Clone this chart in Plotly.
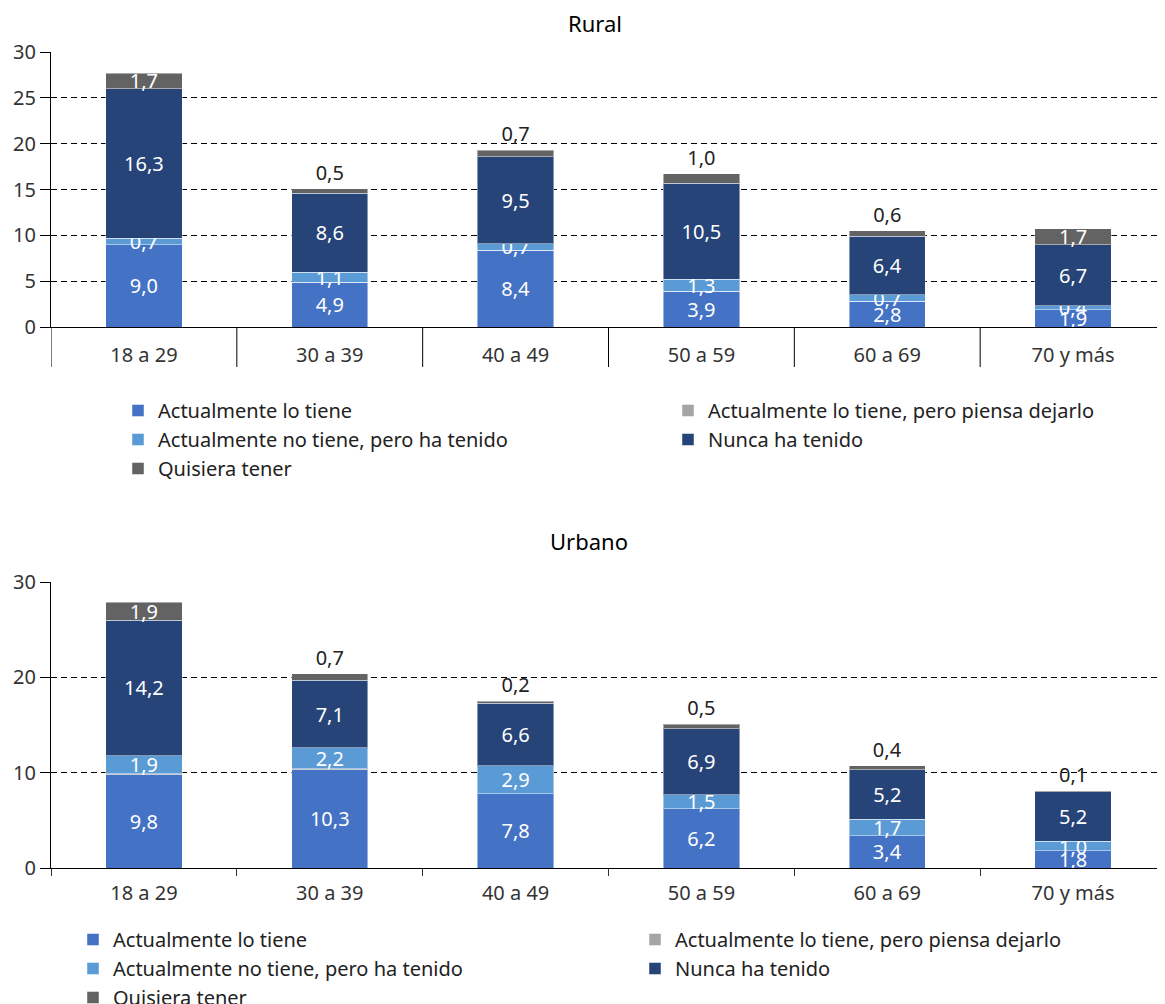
import plotly.graph_objects as go

categories = ["18 a 29", "30 a 39", "40 a 49", "50 a 59", "60 a 69", "70 y más"]
series_names = [
    "Actualmente lo tiene",
    "Actualmente lo tiene, pero piensa dejarlo",
    "Actualmente no tiene, pero ha tenido",
    "Nunca ha tenido",
    "Quisiera tener",
]
colors = ["#4472C4", "#A5A5A5", "#5B9BD5", "#264478", "#636363"]

rural_tiene = [9.0, 4.9, 8.4, 3.9, 2.8, 1.9]
rural_dejarlo = [0.0, 0.0, 0.0, 0.0, 0.0, 0.0]
rural_ha_tenido = [0.7, 1.1, 0.7, 1.3, 0.7, 0.4]
rural_nunca = [16.3, 8.6, 9.5, 10.5, 6.4, 6.7]
rural_quisiera = [1.7, 0.5, 0.7, 1.0, 0.6, 1.7]

urbano_tiene = [9.8, 10.3, 7.8, 6.2, 3.4, 1.8]
urbano_dejarlo = [0.1, 0.1, 0.0, 0.0, 0.0, 0.0]
urbano_ha_tenido = [1.9, 2.2, 2.9, 1.5, 1.7, 1.0]
urbano_nunca = [14.2, 7.1, 6.6, 6.9, 5.2, 5.2]
urbano_quisiera = [1.9, 0.7, 0.2, 0.5, 0.4, 0.1]

rural_tick_vals = [0, 5, 10, 15, 20, 25, 30]
urbano_tick_vals = [0, 10, 20, 30]

FONT = "Noto Sans"
W, H = 1165, 1004
OFF = 8  # page body margin


def fmt(v):
    return f"{v:.1f}".replace(".", ",")


def px_x(p):
    return (p - OFF) / W


def px_y(p):
    return 1 - (p - OFF) / H


fig = go.Figure()


def add_panel(series, xa, ya, legend):
    for i, (name, vals, col) in enumerate(zip(series_names, series, colors)):
        labeled = i != 1
        if i == 4:
            pos = ["inside" if v >= 1.5 else "outside" for v in vals]
        else:
            pos = "inside"
        fig.add_trace(go.Bar(
            x=categories, y=vals, name=name, xaxis=xa, yaxis=ya, legend=legend,
            marker=dict(color=col, line=dict(color="rgba(255,255,255,0.45)", width=1)),
            text=[fmt(v) for v in vals] if labeled else None,
            textposition=pos if labeled else "none",
            textangle=0,
            insidetextanchor="middle",
            insidetextfont=dict(color="white", size=20, family=FONT),
            outsidetextfont=dict(color="#222222", size=20, family=FONT),
            constraintext="none",
            cliponaxis=False,
            hoverinfo="skip",
        ))


add_panel([rural_tiene, rural_dejarlo, rural_ha_tenido, rural_nunca, rural_quisiera], "x", "y", "legend")
add_panel([urbano_tiene, urbano_dejarlo, urbano_ha_tenido, urbano_nunca, urbano_quisiera], "x2", "y2", "legend2")

x_dom = [px_x(51), px_x(1166)]
tick_font = dict(family=FONT, size=20, color="#333333")
legend_font = dict(family=FONT, size=20, color="#222222")

fig.update_layout(
    width=W, height=H, template="none",
    margin=dict(l=0, r=0, t=0, b=0, autoexpand=False),
    paper_bgcolor="white", plot_bgcolor="white",
    barmode="stack", bargap=0.59,
    font=dict(family=FONT, size=20, color="#222222"),
    uniformtext=dict(minsize=20, mode="show"),
    xaxis=dict(domain=x_dom, anchor="y", type="category", showgrid=False,
               showline=True, linecolor="#000000", linewidth=1,
               ticks="", tickfont=tick_font, automargin=False,
               ticklabelstandoff=10,
               range=[-0.5, len(categories) - 0.5]),
    yaxis=dict(domain=[px_y(327), px_y(52)], anchor="x", range=[0, 30],
               tickvals=rural_tick_vals, showgrid=True, gridcolor="#000000",
               griddash="6px,4px", gridwidth=1, zeroline=False,
               showline=True, linecolor="#000000", linewidth=1,
               ticks="outside", ticklen=10, tickcolor="#000000",
               tickfont=tick_font, automargin=False),
    xaxis2=dict(domain=x_dom, anchor="y2", type="category", showgrid=False,
                showline=True, linecolor="#000000", linewidth=1,
                ticks="outside", tickson="boundaries", ticklen=7,
                tickcolor="#333333", tickfont=tick_font, automargin=False,
                ticklabelstandoff=7,
                range=[-0.5, len(categories) - 0.5]),
    yaxis2=dict(domain=[px_y(868), px_y(582)], anchor="x2", range=[0, 30],
                tickvals=urbano_tick_vals, showgrid=True, gridcolor="#000000",
                griddash="6px,4px", gridwidth=1, zeroline=False,
                showline=True, linecolor="#000000", linewidth=1,
                ticks="outside", ticklen=10, tickcolor="#000000",
                tickfont=tick_font, automargin=False),
    legend=dict(orientation="h", x=px_x(118), xanchor="left", y=px_y(391), yanchor="top",
                entrywidth=505, entrywidthmode="pixels", traceorder="normal",
                font=legend_font, bgcolor="rgba(0,0,0,0)"),
    legend2=dict(orientation="h", x=px_x(73), xanchor="left", y=px_y(920), yanchor="top",
                 entrywidth=517, entrywidthmode="pixels", traceorder="normal",
                 font=legend_font, bgcolor="rgba(0,0,0,0)"),
    annotations=[
        dict(text="Rural", x=px_x(595), y=px_y(23), xref="paper", yref="paper",
             xanchor="center", yanchor="middle", showarrow=False, borderpad=0,
             font=dict(family=FONT, size=22, color="#000000")),
        dict(text="Urbano", x=px_x(589), y=px_y(541), xref="paper", yref="paper",
             xanchor="center", yanchor="middle", showarrow=False, borderpad=0,
             font=dict(family=FONT, size=22, color="#000000")),
    ],
)

# Category separators on the top panel's axis (long ticks between categories)
for k in range(len(categories) + 1):
    fig.add_shape(type="line", xref="x", yref="paper", x0=k - 0.5, x1=k - 0.5,
                  y0=px_y(327), y1=px_y(367), line=dict(color="#000000", width=1))

fig.write_html("out.html")
